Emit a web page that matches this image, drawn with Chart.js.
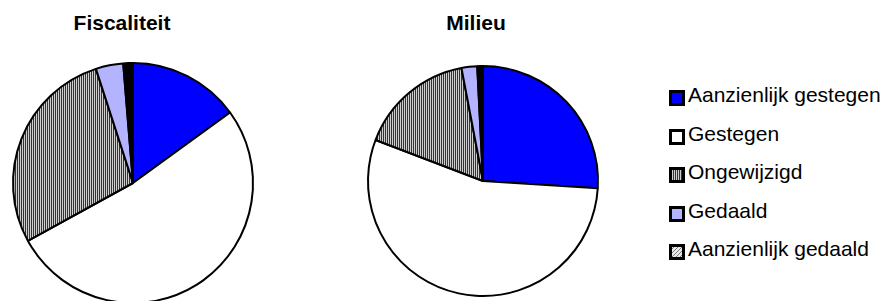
<!DOCTYPE html>
<html>
<head>
<meta charset="utf-8">
<script src="https://cdn.jsdelivr.net/npm/chart.js@4/dist/chart.umd.min.js"></script>
<style>
  body { margin: 0; width: 886px; height: 301px; overflow: hidden; background: #fff; position: relative;
         font-family: "Liberation Sans", Arial, sans-serif; }
  .title { position: absolute; font-weight: bold; font-size: 21px; line-height: 21px; transform: translateX(-50%); white-space: nowrap; }
  canvas.pie { position: absolute; }
  .row { position: absolute; left: 669px; font-size: 21px; line-height: 21px; white-space: nowrap; }
  .row canvas { position: absolute; left: 0; }
  .row span { position: absolute; left: 19px; top: 0; }
</style>
</head>
<body>
<div class="title" style="left:122px; top:12px;">Fiscaliteit</div>
<div class="title" style="left:476px; top:12px;">Milieu</div>
<canvas id="pie1" class="pie" width="260" height="260" style="left:3px; top:53px;"></canvas>
<canvas id="pie2" class="pie" width="260" height="260" style="left:353px; top:51px;"></canvas>
<div id="legend"></div>
<script>
const categories = ["Aanzienlijk gestegen", "Gestegen", "Ongewijzigd", "Gedaald", "Aanzienlijk gedaald"];
const fiscaliteit = [15, 52, 28, 3.7, 1.3];
const milieu = [26, 54.8, 16.2, 2.2, 0.8];

// fill patterns like the old office charts
function stripes() {
    const c = document.createElement("canvas");
    c.width = 2; c.height = 2;
    const g = c.getContext("2d");
    g.fillStyle = "#cfcfcf"; g.fillRect(0, 0, 2, 2);
    g.fillStyle = "#333"; g.fillRect(0, 0, 1, 2);
    return g.createPattern(c, "repeat");
}
function hatch() {
    const c = document.createElement("canvas");
    c.width = 4; c.height = 4;
    const g = c.getContext("2d");
    g.fillStyle = "#e8e8e8"; g.fillRect(0, 0, 4, 4);
    g.fillStyle = "#777";
    for (let i = 0; i < 4; i++) g.fillRect(3 - i, i, 1, 1);
    return g.createPattern(c, "repeat");
}
const colors = ["#0000ff", "#ffffff", stripes(), "#b3b3ff", hatch()];
// the tiny last slice renders as solid black in the pies
const pieColors = ["#0000ff", "#ffffff", stripes(), "#b3b3ff", "#000000"];

function makePie(id, values, radius) {
    new Chart(document.getElementById(id).getContext("2d"), {
        type: "pie",
        data: {
            labels: categories,
            datasets: [{
                data: values,
                backgroundColor: pieColors,
                borderColor: "#000",
                borderWidth: 2
            }]
        },
        options: {
            responsive: false,
            animation: false,
            radius: radius,
            layout: { padding: 0 },
            plugins: { legend: { display: false }, tooltip: { enabled: false } }
        }
    });
}
makePie("pie1", fiscaliteit, 120);
makePie("pie2", milieu, 115);

// legend
const legend = document.getElementById("legend");
categories.forEach((name, i) => {
    const row = document.createElement("div");
    row.className = "row";
    row.style.top = (84 + 38.5 * i) + "px";
    const sw = document.createElement("canvas");
    sw.width = 16; sw.height = 16;
    sw.style.top = "6px";
    const g = sw.getContext("2d");
    g.fillStyle = "#000"; g.fillRect(0, 0, 16, 16);
    g.fillStyle = colors[i]; g.fillRect(3, 3, 10, 10);
    const t = document.createElement("span");
    t.textContent = name;
    row.appendChild(sw);
    row.appendChild(t);
    legend.appendChild(row);
});
</script>
</body>
</html>
